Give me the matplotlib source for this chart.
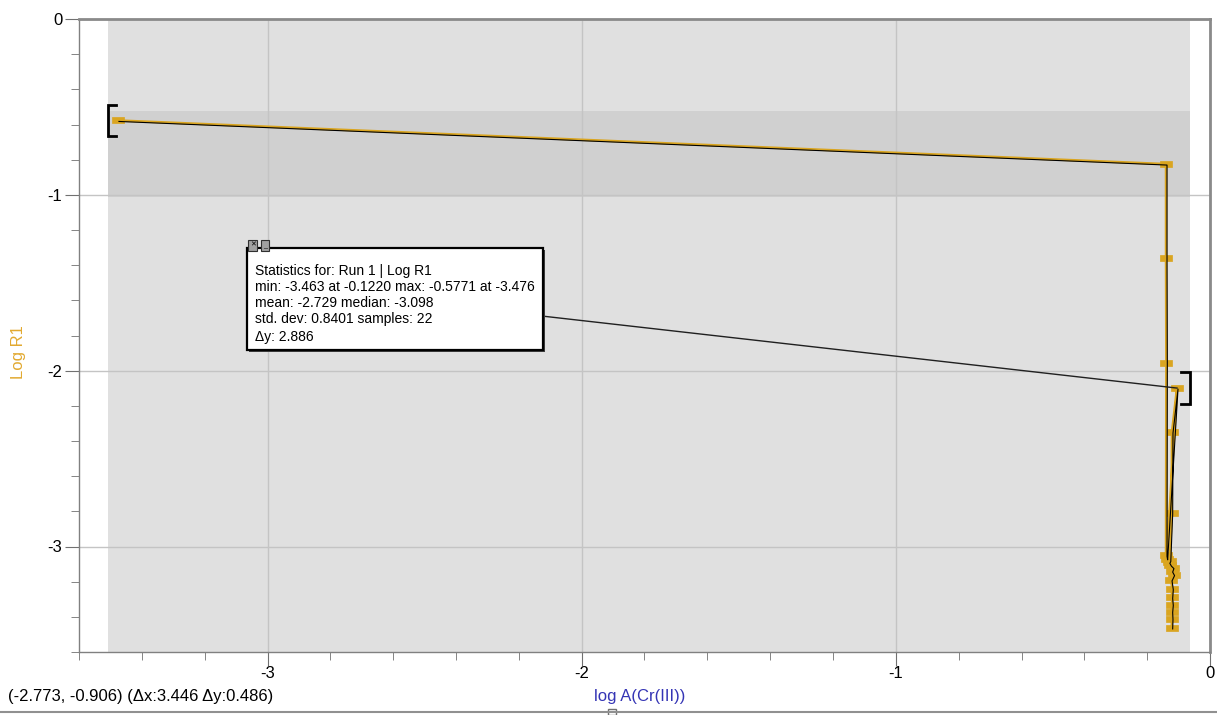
import matplotlib
matplotlib.use('Agg')
import matplotlib.pyplot as plt
import matplotlib.transforms as mtrans
from matplotlib.patches import Rectangle
from matplotlib.lines import Line2D
from matplotlib.path import Path
from matplotlib.ticker import MultipleLocator

plt.rcParams['font.family'] = ['Liberation Sans', 'DejaVu Sans']
plt.rcParams['axes.unicode_minus'] = False

# --- data (Run 1, 22 samples) ---
log_a = [-3.476, -0.140, -0.140, -0.139, -0.140, -0.138, -0.105, -0.121,
         -0.122, -0.128, -0.131, -0.126, -0.118, -0.122, -0.116, -0.124,
         -0.120, -0.122, -0.120, -0.122, -0.121, -0.122]
log_r1 = [-0.577, -0.825, -1.360, -1.957, -3.050, -3.070, -2.099, -2.350,
          -2.810, -3.080, -3.090, -3.106, -3.120, -3.140, -3.160, -3.190,
          -3.240, -3.290, -3.330, -3.370, -3.410, -3.463]

# selection shown in the chart
sel_x = [-3.509, -0.063]
sel_y = [-0.525, -1.011]

stats_lines = ['Statistics for: Run 1 | Log R1',
               'min: -3.463 at -0.1220 max: -0.5771 at -3.476',
               'mean: -2.729 median: -3.098',
               'std. dev: 0.8401 samples: 22',
               '\u0394y: 2.886']
cursor_text = '(-2.773, -0.906) (\u0394x:3.446 \u0394y:0.486)'

orange = '#daa520'

fig = plt.figure(figsize=(12.17, 7.15), dpi=100)
ax = fig.add_axes([79/1217, 1 - 652/715, 1131/1217, 633/715])
ax.set_xlim(-3.6, 0)
ax.set_ylim(-3.6, 0)

# shaded selection
ax.axvspan(sel_x[0], sel_x[1], color='#e0e0e0', zorder=0, lw=0)
ax.add_patch(Rectangle((sel_x[0], sel_y[1]), sel_x[1] - sel_x[0], sel_y[0] - sel_y[1],
                       color='#d0d0d0', zorder=0.5, lw=0))

ax.xaxis.set_major_locator(MultipleLocator(1))
ax.xaxis.set_minor_locator(MultipleLocator(0.2))
ax.yaxis.set_major_locator(MultipleLocator(1))
ax.yaxis.set_minor_locator(MultipleLocator(0.2))
ax.grid(True, which='major', color='#c4c4c4', lw=1, zorder=1)
ax.tick_params(which='major', length=10, color='#707070', labelsize=12)
ax.tick_params(which='minor', length=6, color='#707070')
ax.tick_params(axis='x', which='major', pad=0)
ax.tick_params(axis='y', which='major', pad=2)

for s in ['left', 'bottom']:
    ax.spines[s].set_color('#808080')
    ax.spines[s].set_linewidth(1)
for s in ['top', 'right']:
    ax.spines[s].set_color('#8a8a8a')
    ax.spines[s].set_linewidth(2)

# wide rectangle marker
rect = Path([(-1, -0.55), (1, -0.55), (1, 0.55), (-1, 0.55), (-1, -0.55)],
            [Path.MOVETO, Path.LINETO, Path.LINETO, Path.LINETO, Path.CLOSEPOLY])
ax.plot(log_a, log_r1, color=orange, lw=1.8, marker=rect, ms=9, mec=orange, mfc=orange,
        mew=0.5, zorder=3)
shift = ax.transData + mtrans.ScaledTranslation(1/100, -1/100, fig.dpi_scale_trans)
ax.plot(log_a, log_r1, color='black', lw=0.8, zorder=4, transform=shift)

# brackets at selection edges
i_left = log_a.index(min(log_a))
i_right = log_a.index(max(log_a))
bh = 0.09
bw = 0.028
ax.plot([sel_x[0] + bw, sel_x[0], sel_x[0], sel_x[0] + bw],
        [log_r1[i_left] + bh, log_r1[i_left] + bh, log_r1[i_left] - bh, log_r1[i_left] - bh],
        color='black', lw=2, zorder=5, solid_joinstyle='miter')
ax.plot([sel_x[1] - bw, sel_x[1], sel_x[1], sel_x[1] - bw],
        [log_r1[i_right] + bh, log_r1[i_right] + bh, log_r1[i_right] - bh, log_r1[i_right] - bh],
        color='black', lw=2, zorder=5, solid_joinstyle='miter')

# statistics box with callout line
bx0, bx1, by0, by1 = -3.065, -2.123, -1.303, -1.883
ax.plot([bx1, log_a[i_right]], [-1.69, log_r1[i_right]], color='#202020', lw=1, zorder=5)
ax.add_patch(Rectangle((bx0 + 0.006, by1 - 0.012), bx1 - bx0, by0 - by1,
                       facecolor='#404040', edgecolor='none', zorder=6))
ax.add_patch(Rectangle((bx0, by1), bx1 - bx0, by0 - by1,
                       facecolor='white', edgecolor='black', lw=1.6, zorder=7))
for dx, sym in [(4, '\u2715'), (13, '_')]:
    ax.annotate(sym, xy=(bx0, by0), xycoords='data', xytext=(dx, 2),
                textcoords='offset points', ha='center', va='center', fontsize=5,
                color='black', zorder=9,
                bbox=dict(boxstyle='square,pad=0.25', fc='#a0a0a0', ec='#303030', lw=0.8))
offs = [23, 39, 55, 71, 89]
for line, dy in zip(stats_lines, offs):
    ax.annotate(line, xy=(bx0, by0), xycoords='data', xytext=(5.5, -dy * 0.72),
                textcoords='offset points', ha='left', va='center', fontsize=10,
                color='black', zorder=9)

# axis labels and footer
fig.text(18/1217, 1 - 352/715, 'Log R1', rotation=90, ha='center', va='center',
         fontsize=12, color='#e2a930')
fig.text(640/1217, 1 - 697/715, 'log A(Cr(III))', ha='center', va='center',
         fontsize=12, color='#3535b5')
fig.text(8/1217, 1 - 697/715, cursor_text, ha='left', va='center', fontsize=12, color='black')
fig.add_artist(Line2D([0, 1], [1 - 712/715, 1 - 712/715], color='#909090', lw=1.5))
fig.add_artist(Rectangle((608/1217, 1 - 715/715), 8/1217, 6/715, facecolor='white',
                         edgecolor='#707070', lw=1))

fig.savefig('out.png', dpi=100)
